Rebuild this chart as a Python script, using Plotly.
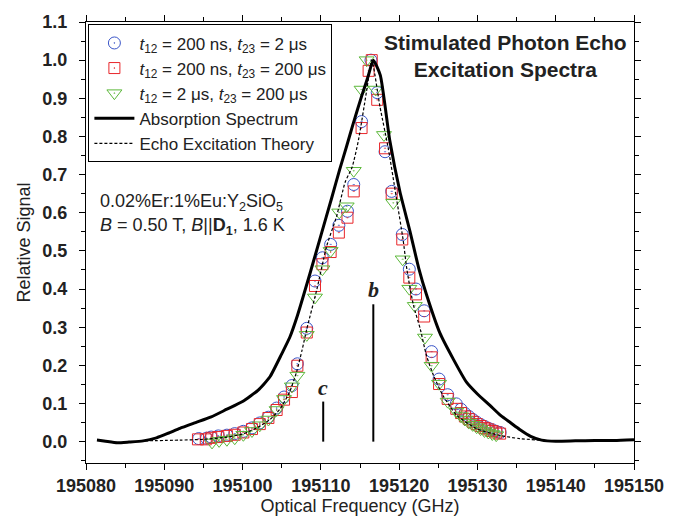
import plotly.graph_objects as go

# ---------------- data ----------------
# t12 = 200 ns, t23 = 2 us (blue circles)
blue_f = [195094.4, 195095.4, 195096.0, 195096.9, 195098.0, 195099.0, 195100.1, 195101.2,
          195102.2, 195103.3, 195104.35, 195105.3, 195106.3, 195107.0, 195108.2, 195109.25,
          195110.2, 195111.25, 195112.3, 195113.4, 195114.2, 195115.2, 195116.4, 195117.2,
          195118.2, 195119.05, 195120.4, 195121.3, 195122.15, 195123.2, 195124.15, 195125.1,
          195126.2, 195127.3, 195127.9, 195128.4, 195128.9, 195129.4, 195129.9, 195130.4,
          195130.9, 195131.4, 195131.9, 195132.4, 195132.9]
blue_y = [0.008, 0.009, 0.012, 0.015, 0.017, 0.021, 0.027, 0.036,
          0.049, 0.064, 0.088, 0.117, 0.147, 0.204, 0.297, 0.421,
          0.482, 0.517, 0.567, 0.604, 0.674, 0.839, 1.000, 0.915,
          0.760, 0.656, 0.543, 0.452, 0.400, 0.343, 0.236, 0.164,
          0.123, 0.099, 0.085, 0.074, 0.066, 0.058, 0.051, 0.045,
          0.040, 0.035, 0.031, 0.027, 0.024]

# t12 = 200 ns, t23 = 200 us (red squares)
red_f = [195094.3, 195095.3, 195096.0, 195096.9, 195098.0, 195099.0, 195100.1, 195101.2,
         195102.2, 195103.3, 195104.35, 195105.3, 195106.3, 195107.0, 195108.2, 195109.25,
         195110.2, 195111.25, 195112.3, 195113.4, 195114.2, 195115.2, 195116.1, 195116.5,
         195117.2, 195118.2, 195119.05, 195120.4, 195121.3, 195122.15, 195123.2, 195124.15,
         195125.1, 195126.2, 195127.3, 195127.9, 195128.4, 195128.9, 195129.4, 195129.9,
         195130.4, 195130.9, 195131.4, 195131.9, 195132.4, 195132.9]
red_y = [0.006, 0.006, 0.010, 0.012, 0.015, 0.018, 0.024, 0.033,
         0.046, 0.062, 0.083, 0.110, 0.130, 0.199, 0.286, 0.408,
         0.465, 0.497, 0.548, 0.587, 0.656, 0.822, 0.972, 1.000,
         0.896, 0.769, 0.650, 0.530, 0.430, 0.386, 0.328, 0.221,
         0.151, 0.112, 0.086, 0.075, 0.066, 0.059, 0.052, 0.046,
         0.041, 0.036, 0.032, 0.028, 0.024, 0.021]

# t12 = 2 us, t23 = 200 us (green triangles)
green_f = [195096.1, 195097.0, 195098.0, 195099.0, 195100.1, 195101.2, 195102.2, 195103.3,
           195104.35, 195105.3, 195106.3, 195107.0, 195108.2, 195109.25, 195110.2, 195111.25,
           195112.35, 195113.3, 195114.2, 195115.2, 195115.85, 195117.0, 195118.06, 195119.25,
           195120.45, 195121.3, 195122.0, 195123.3, 195124.15, 195125.1, 195126.2, 195127.3,
           195127.9, 195128.4, 195128.9, 195129.4, 195129.9, 195130.4, 195130.9, 195131.4,
           195131.9, 195132.4]
green_y = [-0.002, 0.002, 0.005, 0.009, 0.018, 0.028, 0.043, 0.058,
           0.083, 0.112, 0.145, 0.173, 0.280, 0.378, 0.452, 0.500,
           0.601, 0.617, 0.710, 0.923, 1.000, 0.923, 0.804, 0.626,
           0.478, 0.401, 0.356, 0.273, 0.199, 0.152, 0.105, 0.079,
           0.067, 0.058, 0.050, 0.044, 0.038, 0.033, 0.028, 0.024,
           0.020, 0.017]

# absorption spectrum (solid)
abs_f = [195081.4, 195082.5, 195084.0, 195085.5, 195087.3, 195089.0, 195090.5, 195092.0,
         195094.0, 195096.0, 195098.0, 195100.0, 195102.0, 195103.5, 195105.0, 195106.06,
         195107.0, 195108.6, 195110.0, 195111.4, 195112.4, 195113.3, 195114.15, 195115.2,
         195116.0, 195116.7, 195117.6, 195118.8, 195120.1, 195121.4, 195122.5, 195123.5,
         195125.2, 195126.9, 195128.6, 195130.0, 195131.6, 195133.0, 195134.2, 195135.4,
         195136.8, 195138.2, 195140.0, 195142.5, 195145.0, 195147.5, 195150.0]
abs_y = [0.004, 0.001, -0.003, -0.001, 0.002, 0.010, 0.022, 0.035,
         0.050, 0.065, 0.085, 0.105, 0.135, 0.170, 0.230, 0.275,
         0.330, 0.440, 0.540, 0.640, 0.713, 0.775, 0.835, 0.905,
         0.955, 1.000, 0.960, 0.790, 0.655, 0.550, 0.455, 0.385,
         0.285, 0.217, 0.156, 0.125, 0.095, 0.068, 0.050, 0.032,
         0.014, 0.004, 0.001, 0.002, 0.003, 0.003, 0.005]

# echo excitation theory (dashed)
th_f = [195087.5, 195092.0, 195095.0, 195098.0, 195100.0, 195102.0, 195103.5, 195104.8,
        195106.0, 195106.9, 195107.6, 195108.2, 195109.5, 195110.75, 195112.0, 195113.1,
        195114.0, 195114.8, 195115.85, 195116.5, 195117.55, 195118.6, 195119.6, 195120.5,
        195121.0, 195121.8, 195122.7, 195123.5, 195124.4, 195125.6, 195127.35, 195129.9,
        195132.9, 195135.4, 195138.5]
th_y = [0.002, 0.004, 0.006, 0.012, 0.020, 0.038, 0.058, 0.086,
        0.130, 0.183, 0.240, 0.295, 0.400, 0.513, 0.590, 0.680,
        0.720, 0.790, 0.920, 1.000, 0.878, 0.770, 0.645, 0.530,
        0.450, 0.360, 0.295, 0.225, 0.173, 0.121, 0.069, 0.034,
        0.016, 0.008, 0.003]

# marker lines b and c
b_f = [195116.7, 195116.7]
b_y = [0.0, 0.36]
c_f = [195110.3, 195110.3]
c_y = [0.0, 0.105]

x_range = [195080, 195150]
y_range = [-0.056, 1.1]

BLUE = "#3a55c8"
RED = "#e8262a"
GREEN = "#5cb83a"
FONT = "Arial, Liberation Sans, sans-serif"

fig = go.Figure()

fig.add_trace(go.Scatter(
    x=blue_f, y=blue_y, mode="markers",
    name="<i>t</i><sub>12</sub> = 200 ns, <i>t</i><sub>23</sub> = 2 μs",
    marker=dict(symbol="circle-open-dot", size=12, color=BLUE, line=dict(width=1, color=BLUE))))
fig.add_trace(go.Scatter(
    x=red_f, y=red_y, mode="markers",
    name="<i>t</i><sub>12</sub> = 200 ns, <i>t</i><sub>23</sub> = 200 μs",
    marker=dict(symbol="square-open-dot", size=11, color=RED, line=dict(width=1, color=RED))))
fig.add_trace(go.Scatter(
    x=green_f, y=green_y, mode="markers",
    name="<i>t</i><sub>12</sub> = 2 μs, <i>t</i><sub>23</sub> = 200 μs",
    marker=dict(symbol="triangle-down-open-dot", size=13, color=GREEN, line=dict(width=1, color=GREEN))))
fig.add_trace(go.Scatter(
    x=abs_f, y=abs_y, mode="lines", name="Absorption Spectrum",
    line=dict(color="black", width=3, shape="spline", smoothing=0.5)))
fig.add_trace(go.Scatter(
    x=th_f, y=th_y, mode="lines", name="Echo Excitation Theory",
    line=dict(color="black", width=1.2, dash="3px,2px", shape="spline", smoothing=0.6)))
fig.add_trace(go.Scatter(
    x=b_f, y=b_y, mode="lines", showlegend=False, line=dict(color="black", width=2)))
fig.add_trace(go.Scatter(
    x=c_f, y=c_y, mode="lines", showlegend=False, line=dict(color="black", width=2)))

axis_common = dict(
    showline=True, linecolor="black", linewidth=1.2, mirror="ticks",
    ticks="outside", ticklen=6, tickwidth=1.2, tickcolor="black",
    showgrid=False, zeroline=False,
    tickfont=dict(family=FONT, size=18, color="#222", weight="bold"),
)

fig.update_xaxes(
    range=x_range, dtick=10, tick0=195080, tickformat="d",
    minor=dict(dtick=5, ticks="outside", ticklen=4, tickwidth=1.2, tickcolor="black"),
    title=dict(text="Optical Frequency (GHz)", font=dict(family=FONT, size=18, color="#222"), standoff=4),
    **axis_common)
fig.update_yaxes(
    range=y_range, dtick=0.1, tick0=0, tickformat=".1f", ticklabelstandoff=8,
    minor=dict(dtick=0.05, ticks="outside", ticklen=4, tickwidth=1.2, tickcolor="black"),
    title=dict(text="Relative Signal", font=dict(family=FONT, size=18, color="#222"), standoff=6),
    **axis_common)

annotations = [
    dict(x=0.765, y=0.985, xref="paper", yref="paper", showarrow=False,
         xanchor="center", yanchor="top",
         text="<b>Stimulated Photon Echo<br>Excitation Spectra</b>",
         font=dict(family=FONT, size=21, color="#222"), align="center"),
    dict(x=0.022, y=0.59, xref="paper", yref="paper", showarrow=False, xanchor="left",
         text="0.02%Er:1%Eu:Y<sub>2</sub>SiO<sub>5</sub>",
         font=dict(family=FONT, size=18, color="#222")),
    dict(x=0.022, y=0.537, xref="paper", yref="paper", showarrow=False, xanchor="left",
         text="<i>B</i> = 0.50 T, <i>B</i>||<b>D</b><sub><b>1</b></sub>, 1.6 K",
         font=dict(family=FONT, size=18, color="#222")),
    dict(x=b_f[0], y=b_y[1], xref="x", yref="y", showarrow=False, yanchor="bottom", yshift=0,
         text="<b><i>b</i></b>", font=dict(family="Liberation Serif, Times New Roman, serif", size=22, color="#222")),
    dict(x=c_f[0], y=c_y[1], xref="x", yref="y", showarrow=False, yanchor="bottom", yshift=0,
         text="<b><i>c</i></b>", font=dict(family="Liberation Serif, Times New Roman, serif", size=22, color="#222")),
]

fig.update_layout(
    width=681, height=524,
    margin=dict(l=86, r=47, t=21, b=59),
    paper_bgcolor="white", plot_bgcolor="white",
    font=dict(family=FONT, color="#222"),
    showlegend=True,
    legend=dict(x=0.004, y=0.995, xanchor="left", yanchor="top",
                bordercolor="black", borderwidth=1.2, bgcolor="white",
                font=dict(family=FONT, size=17, color="#222"),
                tracegroupgap=0, itemwidth=40),
    annotations=annotations,
)

fig.write_html("out.html")
